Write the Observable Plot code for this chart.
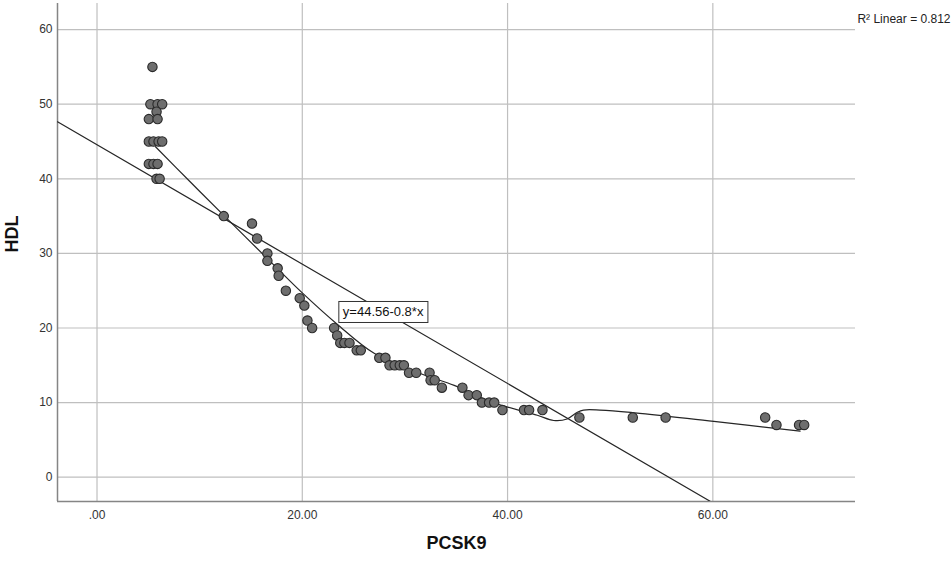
<!DOCTYPE html>
<html>
<head>
<meta charset="utf-8">
<script src="https://cdn.jsdelivr.net/npm/d3@7"></script>
<script src="https://cdn.jsdelivr.net/npm/@observablehq/plot@0.6"></script>
<style>
  html, body { margin: 0; padding: 0; background: #fff; }
  #chart { width: 952px; height: 563px; }
</style>
</head>
<body>
<div id="chart"></div>
<script>
// ---- data ----
const pcsk9 = [
  5.4,
  5.2, 5.9, 6.35,
  5.8,
  5.05, 5.9,
  5.05, 5.5, 6.0, 6.35,
  5.05, 5.5, 5.9,
  5.8, 6.1,
  12.35, 15.1, 15.6, 16.6, 16.6, 17.6, 17.7, 18.4, 19.75, 20.2, 20.5, 20.96,
  23.1, 23.4, 23.7, 24.1, 24.6, 25.3, 25.7, 27.5, 28.1, 28.5, 29.0, 29.5, 29.9,
  30.4, 31.1, 32.4, 32.5, 32.9, 33.6, 35.6, 36.2, 37.0, 37.5, 38.2, 38.7, 39.5,
  41.6, 42.1, 43.4, 47.0, 52.2, 55.4, 65.1, 66.2, 68.4, 68.9
];
const hdl = [
  55,
  50, 50, 50,
  49,
  48, 48,
  45, 45, 45, 45,
  42, 42, 42,
  40, 40,
  35, 34, 32, 30, 29, 28, 27, 25, 24, 23, 21, 20,
  20, 19, 18, 18, 18, 17, 17, 16, 16, 15, 15, 15, 15,
  14, 14, 14, 13, 13, 12, 12, 11, 11, 10, 10, 10, 9,
  9, 9, 9, 8, 8, 8, 8, 7, 7, 7
];

// fitted smooth (loess) curve
const fitX = [5.7, 9.0, 12.35, 16.6, 20.0, 23.4, 27.0, 31.5, 34.8, 38.0, 40.0, 42.9, 44.5, 45.8, 46.8, 47.4, 49.0, 52.0, 60.1, 68.5];
const fitY = [44.3, 39.7, 35.1, 29.3, 24.7, 20.5, 16.6, 13.9, 12.3, 10.3, 9.4, 8.3, 7.6, 7.8, 8.7, 9.0, 9.0, 8.7, 7.47, 6.17];

// linear fit shown in the reference
const intercept = 44.56;
const slope = -0.8;
const equationLabel = "y=44.56-0.8*x";
const r2Label = "R\u00B2 Linear = 0.812";
const labelPos = [23.95, 22.1];

const xDomain = [-3.85, 73.9];
const yDomain = [-3.26, 63.5];
const xTicks = [0, 20, 40, 60];
const yTicks = [0, 10, 20, 30, 40, 50, 60];
const xTitle = "PCSK9";
const yTitle = "HDL";

// ---- build ----
const points = pcsk9.map((x, i) => ({x, y: hdl[i]}));
const fit = fitX.map((x, i) => ({x, y: fitY[i]}));
const reg = xDomain.map(x => ({x, y: intercept + slope * x}));

const gridColor = "#bfbfbf";
const axisColor = "#858585";
const lineColor = "#262626";

const svg = Plot.plot({
  width: 952,
  height: 563,
  marginLeft: 57,
  marginRight: 97,
  marginTop: 3,
  marginBottom: 62,
  style: {fontFamily: "'Liberation Sans', Arial, sans-serif", fontSize: "12px", color: "#333", background: "#fff"},
  x: {domain: xDomain, label: null},
  y: {domain: yDomain, label: null},
  marks: [
    Plot.gridX(xTicks, {stroke: gridColor, strokeOpacity: 1, strokeWidth: 1.2}),
    Plot.gridY(yTicks, {stroke: gridColor, strokeOpacity: 1, strokeWidth: 1.2}),
    Plot.ruleX([xDomain[0]], {stroke: axisColor, strokeWidth: 1.5}),
    Plot.ruleY([yDomain[0]], {stroke: axisColor, strokeWidth: 1.5}),
    Plot.axisX({ticks: xTicks, tickSize: 0, tickPadding: 9, fill: "#333",
      tickFormat: d => d === 0 ? ".00" : d.toFixed(2), label: null}),
    Plot.axisY({ticks: yTicks, tickSize: 0, tickPadding: 5, fill: "#333", label: null}),
    Plot.line(reg, {x: "x", y: "y", stroke: lineColor, strokeWidth: 1.2, clip: true}),
    Plot.line(fit, {x: "x", y: "y", stroke: lineColor, strokeWidth: 1.2, curve: "catmull-rom"}),
    Plot.dot(points, {x: "x", y: "y", r: 4.7, fill: "#6e6e6e", stroke: "#2a2a2a", strokeWidth: 1.1}),
    Plot.text([equationLabel], {x: () => labelPos[0], y: () => labelPos[1], text: d => d,
      textAnchor: "start", fontSize: 13, fill: "#111"}),
    Plot.text([r2Label], {frameAnchor: "top-right", dx: 95, dy: 11, textAnchor: "end",
      text: d => d, fontSize: 12, fill: "#222"}),
    Plot.text([xTitle], {frameAnchor: "bottom", dy: 47, text: d => d,
      fontSize: 18, fontWeight: "bold", fill: "#111"}),
    Plot.text([yTitle], {frameAnchor: "left", dx: -45, rotate: -90, text: d => d,
      fontSize: 18, fontWeight: "bold", fill: "#111"})
  ]
});

document.getElementById("chart").appendChild(svg);

// white box with dark border around the equation label
for (const t of svg.querySelectorAll("text")) {
  if (t.textContent === equationLabel) {
    const b = t.getBBox();
    const ns = "http://www.w3.org/2000/svg";
    const rect = document.createElementNS(ns, "rect");
    rect.setAttribute("x", b.x - 4);
    rect.setAttribute("y", b.y - 3);
    rect.setAttribute("width", b.width + 8);
    rect.setAttribute("height", b.height + 6);
    rect.setAttribute("fill", "#fff");
    rect.setAttribute("stroke", "#333");
    rect.setAttribute("stroke-width", "1");
    const tr = t.getAttribute("transform");
    if (tr) rect.setAttribute("transform", tr);
    t.parentNode.insertBefore(rect, t);
  }
}
</script>
</body>
</html>
